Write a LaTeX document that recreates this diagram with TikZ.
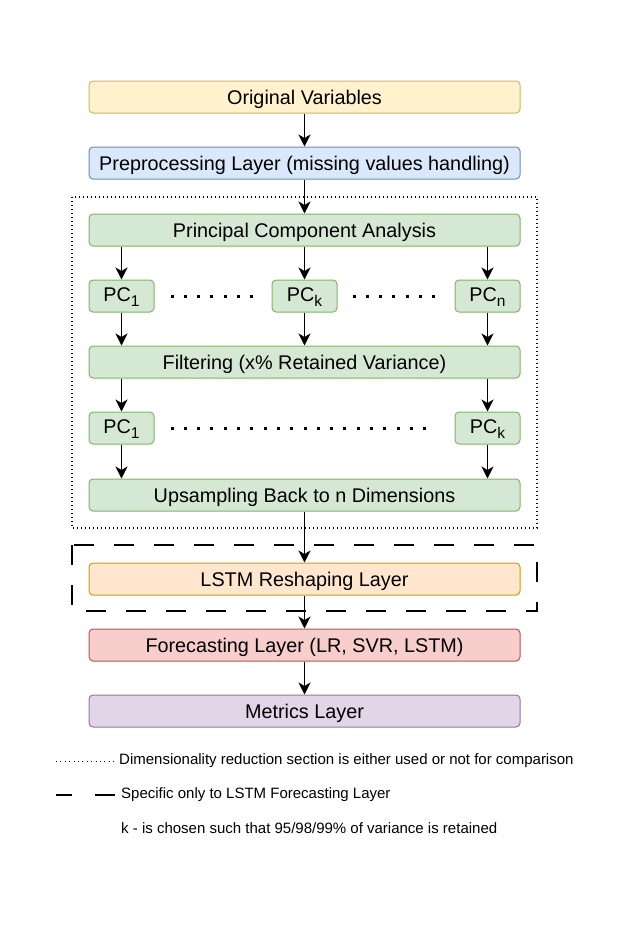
\documentclass[tikz,border=0pt]{standalone}
\usepackage{fontspec}
\setmainfont{Liberation Sans}
\usetikzlibrary{arrows.meta}

\definecolor{yelfill}{HTML}{FFF2CC}
\definecolor{yelline}{HTML}{D6B656}
\definecolor{bluefill}{HTML}{DAE8FC}
\definecolor{blueline}{HTML}{6C8EBF}
\definecolor{greenfill}{HTML}{D5E8D4}
\definecolor{greenline}{HTML}{82B366}
\definecolor{orangefill}{HTML}{FFE6CC}
\definecolor{orangeline}{HTML}{D79B00}
\definecolor{redfill}{HTML}{F8CECC}
\definecolor{redline}{HTML}{B85450}
\definecolor{purplefill}{HTML}{E1D5E7}
\definecolor{purpleline}{HTML}{9673A6}

\newcommand{\pcsub}[1]{\raisebox{-5pt}{\fontsize{15.5}{17}\selectfont #1}}

\begin{document}
\begin{tikzpicture}[x=1pt, y=-1pt,
	box/.style={draw, rounded corners=4pt, line width=1pt, minimum height=32pt, inner sep=0pt, text height=14.2pt, text depth=0pt, font=\fontsize{19.8}{23}\selectfont},
	layer/.style={box, minimum width=431pt},
	pcbox/.style={box, minimum width=65pt, text depth=4pt, fill=greenfill, draw=greenline},
	flow/.style={line width=1.5pt, -{Stealth[length=12pt, width=12pt, inset=3.5pt]}},
	pcdots/.style={line width=3pt, dash pattern=on 3pt off 10.3pt},
	reduction/.style={line width=1.3pt, dash pattern=on 1.3pt off 2.7pt},
	lstmonly/.style={line width=1.6pt, dash pattern=on 20pt off 20pt},
	legend/.style={anchor=west, inner sep=0pt, font=\fontsize{15}{17}\selectfont}]

	\useasboundingbox (0,0) rectangle (634,926);

	\node[layer, fill=yelfill, draw=yelline] (originalvars) at (304.5,97) {Original Variables};
	\node[layer, fill=bluefill, draw=blueline] (preprocessing) at (304.5,163) {Preprocessing Layer (missing values handling)};

	\draw[reduction] (72,197) rectangle (537,528);

	\node[layer, fill=greenfill, draw=greenline] (pca) at (304.5,230) {Principal Component Analysis};
	\node[pcbox] (pcone) at (121.5,296) {PC\pcsub{1}};
	\node[pcbox] (pck) at (304.5,296) {PC\pcsub{k}};
	\node[pcbox] (pcn) at (487.5,296) {PC\pcsub{n}};
	\node[layer, fill=greenfill, draw=greenline] (filtering) at (304.5,362) {Filtering (x\% Retained Variance)};
	\node[pcbox] (pconeb) at (121.5,428) {PC\pcsub{1}};
	\node[pcbox] (pckb) at (487.5,428) {PC\pcsub{k}};
	\node[layer, fill=greenfill, draw=greenline] (upsampling) at (304.5,495) {Upsampling Back to n Dimensions};

	\draw[lstmonly] (72,545) rectangle (537,611);

	\node[layer, fill=orangefill, draw=orangeline] (reshaping) at (304.5,579) {LSTM Reshaping Layer};
	\node[layer, fill=redfill, draw=redline] (forecasting) at (304.5,645) {Forecasting Layer (LR, SVR, LSTM)};
	\node[layer, fill=purplefill, draw=purpleline] (metrics) at (304.5,711) {Metrics Layer};

	\draw[flow] (originalvars) -- (preprocessing);
	\draw[flow] (preprocessing) -- (pca);
	\draw[flow] (pcone.north |- pca.south) -- (pcone.north);
	\draw[flow] (pca.south -| pck.north) -- (pck.north);
	\draw[flow] (pcn.north |- pca.south) -- (pcn.north);
	\draw[flow] (pcone.south) -- (pcone.south |- filtering.north);
	\draw[flow] (pck.south) -- (pck.south |- filtering.north);
	\draw[flow] (pcn.south) -- (pcn.south |- filtering.north);
	\draw[flow] (pconeb.north |- filtering.south) -- (pconeb.north);
	\draw[flow] (pckb.north |- filtering.south) -- (pckb.north);
	\draw[flow] (pconeb.south) -- (pconeb.south |- upsampling.north);
	\draw[flow] (pckb.south) -- (pckb.south |- upsampling.north);
	\draw[flow] (upsampling) -- (reshaping);
	\draw[flow] (reshaping) -- (forecasting);
	\draw[flow] (forecasting) -- (metrics);

	\draw[pcdots] (170.5,296) -- (256,296);
	\draw[pcdots] (352.5,296) -- (438,296);
	\draw[pcdots] (170.5,428) -- (427,428);

	\node[legend] (reductiontext) at (119,761) {Dimensionality reduction section is either used or not for comparison};
	\node[legend] (lstmtext) at (121,795) {Specific only to LSTM Forecasting Layer};
	\node[legend] (choicetext) at (121,828) {k - is chosen such that 95/98/99\% of variance is retained};

	\draw[line width=1pt, dash pattern=on 1pt off 3.4pt] (56,761) -- ([xshift=-4pt]reductiontext.west);
	\draw[line width=1.6pt, dash pattern=on 16pt off 23pt on 20pt off 2pt] (56,795) -- ([xshift=-6pt]lstmtext.west);

\end{tikzpicture}
\end{document}
